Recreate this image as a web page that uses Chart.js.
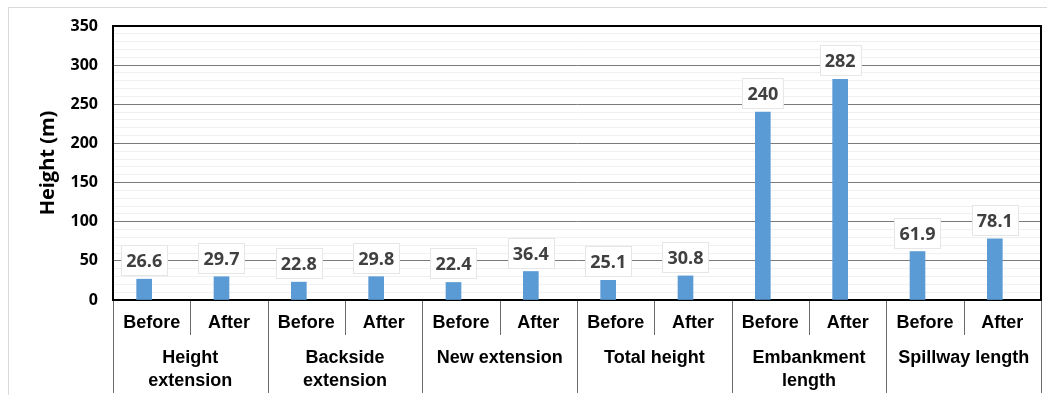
<!DOCTYPE html>
<html>
<head>
<meta charset="utf-8">
<script src="https://cdn.jsdelivr.net/npm/chart.js@4.4.1/dist/chart.umd.min.js"></script>
<style>
  html, body { margin: 0; padding: 0; background: #fff; }
  #wrap { position: relative; width: 1047px; height: 395px; overflow: hidden; }
  #frame { position: absolute; left: 8px; top: 7px; width: 1100px; height: 450px;
           border-left: 1px solid #d9d9d9; border-top: 1px solid #d9d9d9; }
  #chart { position: absolute; left: 0; top: 0; }
</style>
</head>
<body>
<div id="wrap">
  <div id="frame"></div>
  <canvas id="chart" width="1047" height="395"></canvas>
</div>
<script>
const phases = ['Before', 'After', 'Before', 'After', 'Before', 'After',
                'Before', 'After', 'Before', 'After', 'Before', 'After'];
const groups = [['Height', 'extension'], ['Backside', 'extension'], ['New extension'],
                ['Total height'], ['Embankment', 'length'], ['Spillway length']];
const heights = [26.6, 29.7, 22.8, 29.8, 22.4, 36.4, 25.1, 30.8, 240, 282, 61.9, 78.1];
// second series slot is empty, it only keeps the bars left of centre
const blankSeries = [null, null, null, null, null, null, null, null, null, null, null, null];
const yMin = 0;
const yMax = 350;
const yMajorStep = 50;
const yMinorStep = 10;

Chart.defaults.font.family = '"Liberation Sans", Arial, sans-serif';
Chart.defaults.color = '#000';

// top and right edges of the plot box
const plotFrame = {
    id: 'plotFrame',
    beforeDatasetsDraw(chart) {
        const { ctx, chartArea: a } = chart;
        ctx.save();
        ctx.strokeStyle = '#000';
        ctx.lineWidth = 2;
        ctx.beginPath();
        ctx.moveTo(a.left, a.top);
        ctx.lineTo(a.right, a.top);
        ctx.lineTo(a.right, a.bottom);
        ctx.stroke();
        ctx.restore();
    }
};

// separators of the two-level category axis
const categoryDividers = {
    id: 'categoryDividers',
    afterDraw(chart) {
        const { ctx } = chart;
        const x = chart.scales.x;
        const x2 = chart.scales.x2;
        const n = chart.data.labels.length;
        ctx.save();
        ctx.strokeStyle = '#6a6a6a';
        ctx.lineWidth = 1;
        for (let i = 0; i <= n; i++) {
            let px;
            if (i === 0) px = x.left;
            else if (i === n) px = x.right;
            else px = (x.getPixelForValue(i - 1) + x.getPixelForValue(i)) / 2;
            px = Math.round(px) + 0.5;
            const end = i % 2 === 0 ? x2.bottom : x.bottom + 1;
            ctx.beginPath();
            ctx.moveTo(px, x.top + 1);
            ctx.lineTo(px, end);
            ctx.stroke();
        }
        ctx.restore();
    }
};

// boxed value labels above each bar
const valueBoxes = {
    id: 'valueBoxes',
    afterDatasetsDraw(chart) {
        const { ctx } = chart;
        const meta = chart.getDatasetMeta(0);
        const values = chart.data.datasets[0].data;
        ctx.save();
        ctx.font = 'bold 18px "Open Sans", sans-serif';
        ctx.textAlign = 'center';
        ctx.textBaseline = 'middle';
        meta.data.forEach((bar, i) => {
            const text = String(values[i]);
            const w = ctx.measureText(text).width + 10;
            const h = 30;
            const bottom = bar.y - 4;
            const left = Math.round(bar.x - w / 2) + 0.5;
            const top = Math.round(bottom - h) + 0.5;
            ctx.fillStyle = '#fff';
            ctx.fillRect(left, top, w, h);
            ctx.strokeStyle = '#e6e6e6';
            ctx.lineWidth = 1;
            ctx.strokeRect(left, top, w, h);
            ctx.fillStyle = '#404040';
            ctx.fillText(text, bar.x, top + h / 2 + 1);
        });
        ctx.restore();
    }
};

new Chart(document.getElementById('chart'), {
    type: 'bar',
    data: {
        labels: phases,
        datasets: [
            { data: heights, backgroundColor: '#5b9bd5', barThickness: 15 },
            { data: blankSeries, backgroundColor: '#ed7d31', barThickness: 15 }
        ]
    },
    options: {
        responsive: false,
        animation: false,
        devicePixelRatio: 1,
        layout: { padding: { left: 0, top: 26, right: 6, bottom: 2 } },
        plugins: { legend: { display: false }, tooltip: { enabled: false } },
        scales: {
            x: {
                weight: 0,
                offset: true,
                grid: { display: false, drawTicks: false },
                border: { display: true, color: '#000', width: 2 },
                ticks: { padding: 12, maxRotation: 0, autoSkip: false,
                         font: { size: 18, weight: 'bold' }, color: '#000' },
                afterFit: s => { s.height = 34; }
            },
            x2: {
                type: 'category',
                labels: groups,
                position: 'bottom',
                weight: 1,
                offset: true,
                grid: { display: false, drawTicks: false },
                border: { display: false },
                ticks: { padding: 13, maxRotation: 0, autoSkip: false,
                         font: { size: 18, weight: 'bold', lineHeight: 23 / 18 }, color: '#000' },
                afterFit: s => { s.height = 59; }
            },
            y: {
                min: yMin,
                max: yMax,
                ticks: {
                    stepSize: yMinorStep,
                    autoSkip: false,
                    padding: 15,
                    font: { family: '"Open Sans", sans-serif', size: 16, weight: 'bold' },
                    color: '#000',
                    callback: v => (v % yMajorStep === 0 ? v : '')
                },
                grid: {
                    drawTicks: false,
                    color: c => (c.tick.value % yMajorStep === 0 ? '#7a7a7a' : '#f0f0f0'),
                    lineWidth: 1
                },
                border: { display: true, color: '#000', width: 2 },
                title: {
                    display: true,
                    text: 'Height (m)',
                    font: { family: '"Open Sans", sans-serif', size: 20, weight: 'bold' },
                    color: '#000',
                    padding: { top: 36, bottom: 0 }
                },
                afterFit: s => { s.width = 113; }
            }
        }
    },
    plugins: [plotFrame, categoryDividers, valueBoxes]
});
</script>
</body>
</html>
